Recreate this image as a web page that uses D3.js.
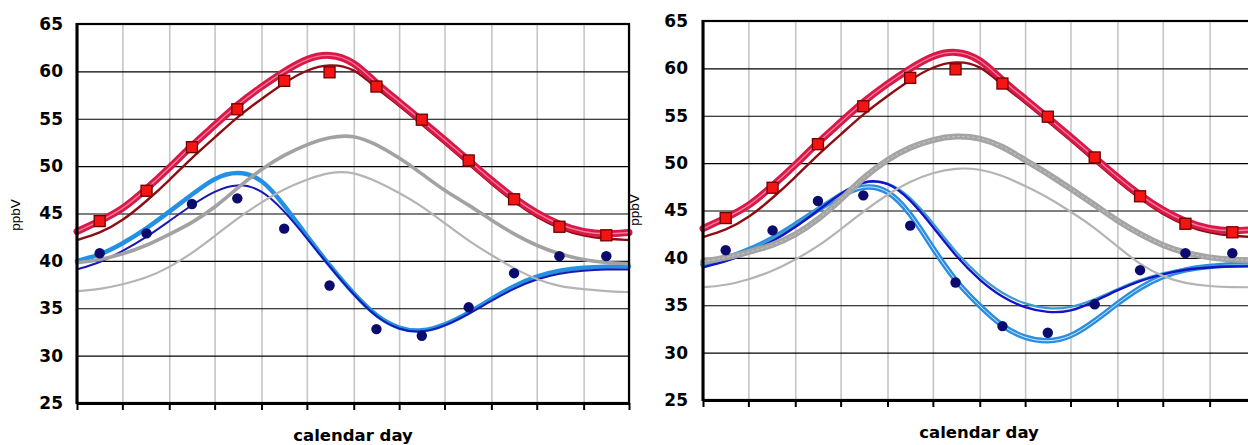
<!DOCTYPE html>
<html>
<head>
<meta charset="utf-8">
<script src="https://cdn.jsdelivr.net/npm/d3@7"></script>
<style>
  html, body { margin: 0; padding: 0; background: #fff; }
  svg { display: block; }
</style>
</head>
<body>
<svg id="chart" width="1248" height="445"></svg>
<script>
// Sample days for the modelled seasonal curves (every half month)
const sampleDays = [0, 15, 30, 46, 61, 76, 91, 106, 122, 137, 152, 167, 183,
                    198, 213, 228, 243, 259, 274, 289, 304, 319, 335, 350, 365];
// Month boundaries (vertical grid + ticks) and monthly observation days
const monthTicks = [0, 30, 61, 91, 122, 152, 183, 213, 243, 274, 304, 335, 365];
const obsDays = [15, 46, 76, 106, 137, 167, 198, 228, 259, 289, 319, 350];
const yTicks = [25, 30, 35, 40, 45, 50, 55, 60, 65];

// Observed monthly means (ppbV)
const obsHigh = [44.2, 47.4, 52.0, 56.0, 59.0, 59.9, 58.4, 54.9, 50.6, 46.5, 43.6, 42.7];
const obsLow  = [40.8, 42.9, 46.0, 46.6, 43.4, 37.4, 32.8, 32.1, 35.1, 38.7, 40.5, 40.5];

// Modelled curves, site with high ozone
const redMain = [43.1, 44.2, 45.4, 47.6, 49.8, 52.2, 54.3, 56.5, 58.4, 60.0, 61.4, 61.9, 61.1,
                 58.7, 56.8, 54.8, 52.8, 50.6, 48.5, 46.6, 45.0, 43.8, 43.0, 42.8, 43.0];
const redDark = [42.2, 42.9, 44.2, 46.3, 48.5, 50.9, 53.0, 55.2, 57.1, 58.8, 60.2, 60.8, 60.4,
                 58.2, 56.4, 54.4, 52.4, 50.2, 48.1, 46.2, 44.6, 43.4, 42.6, 42.3, 42.2];

// Left panel: background curves and low-site curves
const grayThickL = [39.8, 40.1, 40.7, 41.6, 42.8, 44.0, 45.6, 47.7, 49.7, 51.2, 52.3, 53.1, 53.3,
                    52.3, 50.9, 49.2, 47.4, 45.9, 44.3, 42.8, 41.6, 40.7, 40.1, 39.8, 39.7];
const grayThinL  = [36.8, 37.0, 37.5, 38.2, 39.3, 40.8, 42.6, 44.5, 46.2, 47.6, 48.6, 49.4, 49.4,
                    48.4, 47.2, 45.8, 44.0, 42.1, 40.6, 39.2, 38.0, 37.3, 37.0, 36.8, 36.7];
const blueLightL = [40.0, 40.6, 41.8, 43.4, 45.2, 47.0, 48.8, 49.5, 48.8, 45.9, 42.6, 39.5, 36.5,
                    34.1, 32.8, 32.5, 33.2, 34.5, 36.0, 37.4, 38.4, 39.0, 39.3, 39.4, 39.4];
const blueDarkL  = [39.1, 39.8, 41.0, 42.5, 44.2, 45.9, 47.4, 48.2, 47.6, 45.3, 42.4, 39.4, 36.4,
                    34.0, 32.7, 32.4, 33.1, 34.4, 35.8, 37.1, 38.1, 38.7, 39.0, 39.1, 39.1];

// Right panel: background curves and low-site curves
const grayBandR  = [39.6, 40.0, 40.6, 41.3, 42.4, 44.0, 46.1, 48.5, 50.4, 51.7, 52.5, 52.9, 52.7,
                    51.8, 50.3, 48.9, 47.3, 45.6, 43.9, 42.5, 41.3, 40.5, 40.0, 39.8, 39.7];
const grayThinR  = [36.9, 37.1, 37.7, 38.6, 39.8, 41.2, 43.0, 44.9, 46.7, 48.1, 49.0, 49.5, 49.4,
                    48.7, 47.6, 46.4, 44.9, 43.2, 41.2, 39.3, 38.0, 37.3, 37.0, 36.9, 36.9];
const blueDarkR  = [39.0, 39.6, 40.5, 41.7, 43.2, 45.0, 46.8, 48.2, 48.1, 46.2, 43.3, 40.2, 37.6,
                    35.8, 34.7, 34.2, 34.3, 35.4, 36.6, 37.6, 38.3, 38.8, 39.0, 39.1, 39.1];
const blueTealR  = [39.3, 39.9, 40.8, 42.0, 43.5, 45.2, 46.9, 48.1, 48.1, 46.5, 43.7, 40.6, 38.0,
                    36.2, 35.1, 34.6, 34.7, 35.6, 36.7, 37.7, 38.4, 38.9, 39.1, 39.2, 39.2];
const blueLightR = [39.3, 39.9, 40.8, 42.0, 43.5, 45.1, 46.6, 47.7, 47.3, 44.8, 41.0, 37.5, 34.9,
                    32.7, 31.5, 31.1, 31.6, 33.3, 35.2, 36.9, 38.1, 38.8, 39.1, 39.3, 39.3];

const svg = d3.select('#chart');
const tickFont = 'DejaVu Sans, Verdana, sans-serif';

function drawPanel(box, layers) {
  const x = d3.scaleLinear().domain([0, 365]).range([box.left, box.right]);
  const y = d3.scaleLinear().domain([25, 65]).range([box.bottom, box.top]);
  const g = svg.append('g');
  const h = box.bottom - box.top;
  const w = box.right - box.left;

  // vertical grid (month boundaries)
  g.append('g')
    .attr('transform', `translate(0,${box.bottom})`)
    .call(d3.axisBottom(x).tickValues(monthTicks).tickSize(-h).tickFormat(''))
    .call(a => a.select('.domain').remove())
    .selectAll('line').attr('stroke', '#c6c6c6').attr('stroke-width', 1.6);

  // horizontal grid
  g.append('g')
    .attr('transform', `translate(${box.left},0)`)
    .call(d3.axisLeft(y).tickValues(yTicks).tickSize(-w).tickFormat(''))
    .call(a => a.select('.domain').remove())
    .selectAll('line').attr('stroke', '#000').attr('stroke-width', 1.1);

  const line = d3.line()
    .x((d, i) => x(sampleDays[i]))
    .y(d => y(d))
    .curve(d3.curveBasis);

  layers.forEach(l => {
    g.append('path')
      .attr('d', line(l.data))
      .attr('fill', 'none')
      .attr('stroke', l.color)
      .attr('stroke-width', l.width)
      .attr('stroke-linejoin', 'round')
      .attr('stroke-linecap', 'round')
      .attr('stroke-dasharray', l.dash || null);
  });

  // frame
  g.append('rect')
    .attr('x', box.left).attr('y', box.top)
    .attr('width', w).attr('height', h)
    .attr('fill', 'none').attr('stroke', '#000').attr('stroke-width', 2.2);

  // left axis line
  g.append('line')
    .attr('x1', box.left).attr('x2', box.left)
    .attr('y1', box.top - 1).attr('y2', box.bottom + 1)
    .attr('stroke', '#000').attr('stroke-width', 3);

  // bottom axis with ticks
  const xAxis = g.append('g')
    .attr('transform', `translate(0,${box.bottom})`)
    .call(d3.axisBottom(x).tickValues(monthTicks).tickSize(7).tickSizeOuter(0).tickFormat(''));
  xAxis.select('.domain').attr('stroke', '#000').attr('stroke-width', 3);
  xAxis.selectAll('line').attr('stroke', '#000').attr('stroke-width', 2);

  // y tick labels
  const yAxis = g.append('g')
    .attr('transform', `translate(${box.left},0)`)
    .call(d3.axisLeft(y).tickValues(yTicks).tickSize(0).tickPadding(box.labelGap));
  yAxis.select('.domain').remove();
  yAxis.selectAll('text')
    .attr('font-family', tickFont)
    .attr('font-weight', 'bold')
    .attr('font-size', 17)
    .attr('fill', '#000');

  // observations
  g.selectAll(null).data(obsLow).join('circle')
    .attr('cx', (d, i) => x(obsDays[i]))
    .attr('cy', d => y(d))
    .attr('r', 5.2)
    .attr('fill', '#0b0b6e');

  const s = 11;
  g.selectAll(null).data(obsHigh).join('rect')
    .attr('x', (d, i) => x(obsDays[i]) - s / 2)
    .attr('y', d => y(d) - s / 2)
    .attr('width', s).attr('height', s)
    .attr('fill', '#f41414')
    .attr('stroke', '#6e0000')
    .attr('stroke-width', 1.3);

  // axis titles
  g.append('text')
    .attr('x', (box.left + box.right) / 2)
    .attr('y', box.titleY)
    .attr('text-anchor', 'middle')
    .attr('font-family', tickFont)
    .attr('font-weight', 'bold')
    .attr('font-size', 16.5)
    .text('calendar day');

  g.append('text')
    .attr('transform', `translate(${box.ylabX},${box.ylabY}) rotate(-90)`)
    .attr('text-anchor', 'middle')
    .attr('font-family', 'Liberation Sans, Arial, sans-serif')
    .attr('font-size', 13.5)
    .text('ppbV');
}

// Left panel
drawPanel(
  { left: 77, right: 629, top: 24, bottom: 403, labelGap: 14, titleY: 441, ylabX: 20, ylabY: 215 },
  [
    { data: blueLightL, color: '#2390e2', width: 4.5 },
    { data: blueDarkL,  color: '#1818b4', width: 2 },
    { data: grayThinL,  color: '#b4b4b4', width: 2.2 },
    { data: grayThickL, color: '#a2a2a2', width: 3.6 },
    { data: redDark,    color: '#8e0d12', width: 2.4 },
    { data: redMain,    color: '#d81848', width: 7 },
    { data: redMain,    color: '#f57a96', width: 1.4 }
  ]
);

// Right panel
drawPanel(
  { left: 703, right: 1255, top: 21, bottom: 400, labelGap: 15, titleY: 438, ylabX: 639, ylabY: 210 },
  [
    { data: blueLightR, color: '#2a8de0', width: 5.5 },
    { data: blueLightR, color: '#e6f2ff', width: 0.9 },
    { data: blueTealR,  color: '#3c9ccf', width: 2.2 },
    { data: blueDarkR,  color: '#1414c4', width: 2.4 },
    { data: grayThinR,  color: '#b4b4b4', width: 2.2 },
    { data: grayBandR,  color: '#a4a4a4', width: 6 },
    { data: grayBandR,  color: '#cacaca', width: 1, dash: '2,3' },
    { data: redDark,    color: '#8e0d12', width: 2.4 },
    { data: redMain,    color: '#d81848', width: 7 },
    { data: redMain,    color: '#f57a96', width: 1.4 }
  ]
);
</script>
</body>
</html>
